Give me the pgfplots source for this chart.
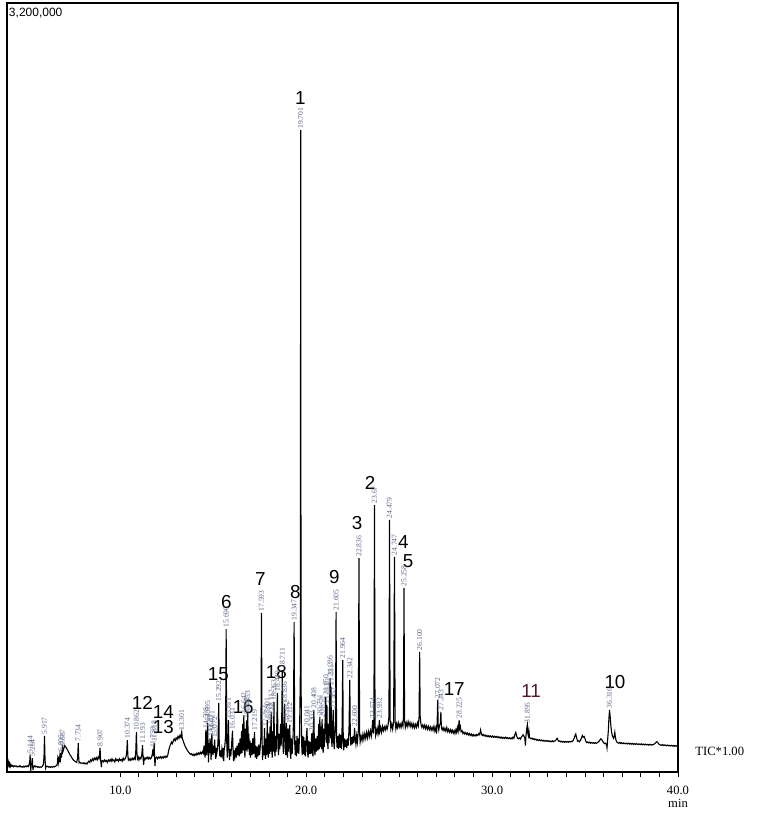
\documentclass[border=0pt]{standalone}
\usepackage{fontspec}
\setmainfont{Liberation Serif}
\newfontfamily\arialf{Liberation Sans}
\usepackage{pgfplots}
\pgfplotsset{compat=1.18}
\definecolor{labcol}{RGB}{95,105,140}
\definecolor{darkred}{RGB}{80,25,45}
\begin{document}
\begin{tikzpicture}
\path[use as bounding box] (-3.5pt,-26pt) rectangle (376.5pt,386pt);
\begin{axis}[
  at={(0,0)}, anchor=south west,
  scale only axis, width=335.5pt, height=384.5pt,
  xmin=3.9, xmax=40, ymin=0, ymax=3200,
  axis line style={line width=0.7pt},
  xtick={10,20,30,40}, xticklabels={10.0,20.0,30.0,40.0},
  minor x tick num=9,
  ytick=\empty,
  xtick pos=bottom, tick align=outside,
  major tick length=2.6pt, minor tick length=2.6pt,
  tick style={line width=0.5pt, black},
  xticklabel style={font=\fontsize{6.3}{7}\selectfont, yshift=-1pt},
  clip=false,
]
\addplot[black, line width=0.55pt] coordinates {
(3.90,24)(3.93,40)(3.96,30)(3.99,42)(4.02,26)(4.05,35)(4.08,22)(4.12,30)(4.16,24)(4.20,27)(4.25,22)(4.30,26)(4.35,23)(4.40,25)(4.45,21)(4.50,24)(4.55,22)(4.60,26)(4.65,21)(4.70,23)(4.75,20)(4.80,24)(4.85,21)(4.90,25)(4.95,22)(5.00,26)
(5.05,23)(5.10,35)(5.13,50)(5.144,72)(5.16,30)(5.18,5)(5.20,28)(5.23,35)(5.264,58)(5.28,25)(5.30,8)(5.32,24)(5.36,22)(5.40,26)(5.45,21)(5.50,23)(5.55,20)(5.60,22)(5.65,19)(5.70,21)(5.75,20)(5.80,24)(5.85,30)(5.89,60)(5.917,150)(5.94,70)(5.96,35)(5.98,18)(6.00,25)(6.05,22)(6.10,24)(6.15,20)(6.20,22)(6.25,19)(6.30,22)(6.35,20)(6.40,23)(6.45,21)(6.50,24)(6.55,26)
(6.60,30)(6.63,55)(6.66,38)(6.70,65)(6.72,40)(6.75,70)(6.78,55)(6.805,78)(6.83,60)(6.85,82)(6.887,100)(6.91,85)(6.95,95)(7.00,110)(7.05,105)(7.10,100)(7.15,92)(7.20,85)(7.25,78)(7.30,70)(7.35,65)(7.40,58)(7.45,52)(7.50,48)(7.55,45)(7.60,42)(7.65,40)(7.70,60)(7.734,120)(7.76,55)(7.78,38)(7.82,40)(7.88,36)(7.95,38)(8.00,35)(8.05,38)(8.10,34)(8.15,37)(8.20,33)(8.25,40)(8.30,45)(8.35,40)(8.40,50)(8.45,45)(8.50,55)(8.55,48)(8.60,58)(8.65,52)(8.70,60)(8.75,50)(8.80,62)(8.85,55)(8.88,75)(8.907,100)(8.93,60)(8.95,40)(8.98,20)(9.00,45)(9.05,48)(9.10,42)(9.15,50)(9.20,44)(9.25,48)(9.30,40)(9.35,50)(9.40,45)(9.45,52)(9.50,44)(9.55,55)(9.60,46)(9.65,50)(9.70,42)(9.75,55)(9.80,48)(9.85,52)(9.90,45)(9.95,55)(10.00,48)(10.05,52)(10.10,45)(10.15,58)(10.20,50)(10.25,55)(10.30,62)(10.34,80)(10.374,133)(10.40,70)(10.43,50)(10.47,55)(10.52,48)(10.57,56)(10.62,50)(10.67,58)(10.72,52)(10.77,60)(10.80,55)(10.83,90)(10.862,166)(10.89,80)(10.92,55)(10.96,62)(11.00,50)(11.05,60)(11.10,55)(11.15,70)(11.193,112)(11.22,60)(11.25,30)(11.28,58)(11.33,52)(11.38,60)(11.43,55)(11.48,62)(11.53,54)(11.58,60)(11.63,55)(11.68,62)(11.72,75)(11.753,95)(11.78,65)(11.818,120)(11.84,60)(11.86,25)(11.89,58)(11.95,62)(12.00,55)(12.05,62)(12.10,58)(12.15,64)(12.20,57)(12.25,63)(12.30,58)(12.35,65)(12.40,60)(12.45,66)(12.50,62)(12.55,70)
(12.60,90)(12.65,105)(12.70,115)(12.75,125)(12.80,118)(12.85,130)(12.90,138)(12.95,130)(13.00,142)(13.05,136)(13.10,148)(13.15,140)(13.20,152)(13.25,145)(13.301,166)(13.33,140)(13.37,132)(13.42,120)(13.47,110)(13.52,102)(13.57,95)(13.62,88)(13.67,82)(13.72,78)(13.77,74)(13.82,76)(13.87,70)(13.92,74)(13.97,68)(14.02,75)(14.07,70)(14.12,78)(14.17,72)(14.22,80)(14.27,74)(14.32,82)(14.37,76)(14.42,85)(14.46,78)(14.50,110)(14.53,80)(14.56,60)(14.598,175)(14.62,90)(14.64,70)(14.667,150)(14.695,204)(14.72,95)(14.74,40)(14.77,120)(14.80,80)(14.825,140)(14.86,85)(14.88,50)(14.921,160)(14.95,90)(14.98,70)(15.01,110)(15.04,80)(15.072,135)(15.10,85)(15.13,55)(15.16,100)(15.19,80)(15.22,95)(15.25,120)(15.292,287)
(15.32,110)(15.35,65)(15.38,90)(15.42,60)(15.46,95)(15.50,70)(15.54,100)(15.56,45)(15.58,88)(15.62,110)(15.66,150)(15.690,595)(15.72,130)(15.75,60)(15.78,120)(15.811,216)(15.84,100)(15.87,50)(15.90,95)(15.94,65)(15.98,110)(16.031,172)(16.06,95)(16.09,45)(16.12,90)(16.16,65)(16.20,100)(16.24,60)(16.28,110)(16.32,70)(16.36,120)(16.40,65)(16.44,140)(16.48,75)(16.52,170)(16.55,80)(16.58,200)(16.61,90)(16.642,238)(16.67,100)(16.70,60)(16.73,180)(16.76,90)(16.792,215)(16.82,85)(16.853,245)(16.88,95)(16.91,160)(16.94,70)(16.97,130)(17.00,60)(17.04,120)(17.08,70)(17.12,140)(17.16,75)(17.19,130)(17.219,166)(17.25,60)(17.29,110)(17.33,55)(17.37,105)(17.41,65)(17.45,115)(17.49,70)(17.53,110)(17.56,150)(17.593,662)(17.62,140)(17.65,50)(17.68,110)(17.72,70)(17.752,183)(17.78,80)(17.81,55)(17.84,140)(17.87,70)(17.901,216)(17.93,90)(17.96,60)(17.99,160)(18.02,75)(18.053,190)(18.08,85)(18.112,250)(18.14,95)(18.17,60)(18.20,170)(18.23,85)(18.263,291)(18.29,95)(18.32,65)(18.35,150)(18.38,85)(18.41,180)(18.449,329)(18.48,100)(18.51,70)(18.55,160)(18.58,95)(18.62,200)(18.65,110)(18.68,220)(18.711,424)(18.74,120)(18.77,75)(18.80,170)(18.836,283)(18.87,100)(18.90,70)(18.932,204)(18.96,90)(18.99,60)(19.02,180)(19.05,85)(19.08,150)(19.112,196)(19.14,80)(19.17,55)(19.20,140)(19.24,75)(19.28,130)(19.31,200)(19.347,624)(19.38,120)(19.41,70)(19.44,130)(19.47,65)(19.50,150)(19.53,80)(19.57,140)(19.60,75)(19.64,160)(19.68,400)(19.701,2671)(19.72,380)(19.75,120)(19.78,70)(19.81,150)(19.84,75)(19.87,145)(19.90,70)(19.93,130)(19.96,65)(20.00,140)(20.041,183)(20.07,80)(20.10,60)(20.13,130)(20.17,75)(20.21,125)(20.25,75)(20.28,140)(20.303,162)(20.33,80)(20.36,65)(20.38,180)(20.408,258)(20.44,95)(20.47,70)(20.51,140)(20.55,85)(20.59,150)(20.63,90)(20.67,200)(20.70,95)(20.731,229)(20.76,105)(20.79,190)(20.82,95)(20.852,220)(20.88,110)(20.91,80)(20.94,180)(20.97,105)(21.01,200)(21.050,312)(21.08,120)(21.112,279)(21.14,130)(21.17,95)(21.20,200)(21.23,120)(21.25,260)(21.286,391)(21.31,140)(21.331,354)(21.36,130)(21.39,105)(21.42,200)(21.452,258)(21.48,120)(21.51,95)(21.54,160)(21.57,200)(21.605,666)(21.63,140)(21.66,100)(21.70,150)(21.74,95)(21.78,160)(21.82,100)(21.86,155)(21.90,95)(21.93,200)(21.964,466)(21.99,130)(22.02,90)
(22.06,140)(22.10,105)(22.14,135)(22.18,100)(22.22,140)(22.26,110)(22.30,180)(22.342,383)(22.37,150)(22.40,110)(22.44,145)(22.48,115)(22.52,150)(22.56,120)(22.600,183)(22.63,140)(22.67,115)(22.71,150)(22.75,125)(22.80,170)(22.836,890)(22.87,160)(22.90,125)(22.95,150)(23.00,130)(23.05,158)(23.10,135)(23.15,160)(23.20,140)(23.25,165)(23.30,142)(23.35,168)(23.40,148)(23.45,172)(23.50,150)(23.54,180)(23.574,216)(23.61,160)(23.64,200)(23.671,1111)(23.70,200)(23.73,155)(23.77,175)(23.81,160)(23.85,182)(23.89,165)(23.932,216)(23.96,170)(24.00,185)(24.05,165)(24.10,190)(24.15,172)(24.20,188)(24.25,175)(24.30,192)(24.35,178)(24.40,195)(24.45,230)(24.479,1049)(24.51,220)(24.55,180)(24.60,200)(24.65,178)(24.70,210)(24.747,895)(24.78,210)(24.82,180)(24.86,200)(24.90,185)(24.95,205)(25.00,186)(25.05,200)(25.10,185)(25.15,204)(25.20,190)(25.23,230)(25.258,766)(25.29,215)(25.33,186)(25.38,205)(25.43,190)(25.48,210)(25.53,192)(25.58,206)(25.63,188)(25.68,202)(25.73,185)(25.78,200)(25.83,184)(25.88,198)(25.93,186)(25.98,205)(26.03,192)(26.07,230)(26.100,500)(26.13,230)(26.17,200)(26.22,186)(26.27,196)(26.32,183)(26.37,195)(26.42,180)(26.47,192)(26.52,178)(26.57,190)(26.62,176)(26.67,188)(26.72,174)(26.77,186)(26.82,173)(26.87,190)(26.92,170)(26.97,185)(27.01,160)(27.04,200)(27.072,300)(27.10,190)(27.13,175)(27.17,195)(27.21,200)(27.243,250)(27.27,185)(27.31,175)(27.36,185)(27.41,172)(27.46,182)(27.51,170)(27.56,185)(27.61,168)(27.66,178)(27.71,166)(27.76,176)(27.81,164)(27.86,174)(27.91,162)(27.96,172)(28.00,160)(28.05,176)(28.09,165)(28.13,185)(28.17,170)(28.20,195)(28.225,216)(28.25,180)(28.29,190)(28.33,168)(28.38,172)(28.43,160)(28.48,166)(28.53,158)(28.58,164)(28.63,156)(28.68,162)(28.73,154)(28.78,160)(28.83,152)(28.88,158)(28.93,150)(28.98,156)(29.03,150)(29.08,155)(29.13,150)(29.18,156)(29.23,152)(29.28,160)(29.33,155)(29.38,175)(29.42,160)(29.47,152)(29.52,156)(29.57,150)(29.62,154)(29.67,148)(29.72,152)(29.77,147)(29.82,151)(29.87,146)(29.92,150)(29.97,145)(30.02,150)(30.07,145)(30.12,149)(30.17,144)(30.22,148)(30.27,143)(30.32,147)(30.37,142)(30.42,146)(30.47,141)(30.52,145)(30.57,140)(30.62,144)(30.67,140)(30.72,145)(30.77,140)(30.82,143)(30.87,139)(30.92,142)(30.97,138)(31.02,142)(31.07,138)(31.12,145)(31.17,140)(31.22,155)(31.27,165)(31.32,150)(31.37,140)(31.42,138)(31.47,142)(31.52,137)(31.57,145)(31.62,150)(31.67,155)(31.72,148)(31.76,140)(31.79,110)(31.82,150)(31.86,180)(31.895,196)(31.92,160)(31.95,150)(31.98,170)(32.01,145)(32.05,140)(32.10,138)(32.15,141)(32.20,136)(32.25,139)(32.30,134)(32.35,137)(32.40,132)(32.45,135)(32.50,131)(32.55,134)(32.60,130)(32.65,133)(32.70,129)(32.75,132)(32.80,128)(32.85,131)(32.90,128)(32.95,131)(33.00,127)(33.05,130)(33.10,126)(33.15,129)(33.20,126)(33.25,130)(33.30,126)(33.35,129)(33.40,130)(33.45,135)(33.50,140)(33.55,132)(33.60,127)(33.65,129)(33.70,125)(33.75,128)(33.80,124)(33.85,127)(33.90,124)(33.95,127)(34.00,124)(34.05,127)(34.10,124)(34.15,127)(34.20,125)(34.25,128)(34.30,126)(34.35,130)(34.40,138)(34.45,150)(34.50,158)(34.55,140)(34.60,128)(34.65,130)(34.70,126)(34.75,132)(34.80,140)(34.85,152)(34.90,145)(34.95,148)(35.00,138)(35.05,126)(35.10,122)(35.15,125)(35.20,121)(35.25,124)(35.30,120)(35.35,123)(35.40,120)(35.45,122)(35.50,119)(35.55,122)(35.60,119)(35.65,122)(35.70,124)(35.75,128)(35.80,133)(35.85,138)(35.90,134)(35.95,128)(36.00,122)(36.05,118)(36.10,120)(36.15,115)(36.18,100)(36.21,130)(36.25,170)(36.28,220)(36.316,258)(36.35,230)(36.39,190)(36.43,165)(36.47,150)(36.50,145)(36.53,140)(36.57,150)(36.60,165)(36.63,145)(36.67,130)(36.71,125)(36.75,122)(36.80,120)(36.85,123)(36.90,119)(36.95,122)(37.00,118)(37.05,121)(37.10,118)(37.15,120)(37.20,117)(37.25,120)(37.30,117)(37.35,120)(37.40,116)(37.45,119)(37.50,116)(37.55,119)(37.60,115)(37.65,118)(37.70,115)(37.75,118)(37.80,115)(37.85,117)(37.90,114)(37.95,117)(38.00,114)(38.05,117)(38.10,113)(38.15,116)(38.20,113)(38.25,116)(38.30,113)(38.35,115)(38.40,112)(38.45,115)(38.50,112)(38.55,115)(38.60,112)(38.65,114)(38.70,115)(38.75,118)(38.80,122)(38.85,126)(38.90,124)(38.95,118)(39.00,114)(39.05,113)(39.10,111)(39.15,114)(39.20,110)(39.25,113)(39.30,110)(39.35,112)(39.40,109)(39.45,112)(39.50,109)(39.55,111)(39.60,108)(39.65,111)(39.70,108)(39.75,110)(39.80,107)(39.85,110)(39.90,107)(39.95,109)(40.00,107)
};
% retention time labels
\addplot[only marks, mark=*, mark size=0pt, mark options={draw=none,fill=none},
  point meta=explicit symbolic,
  nodes near coords={\pgfplotspointmeta},
  every node near coord/.append style={rotate=90, anchor=west, inner sep=0.6pt,
     font=\fontsize{3.8}{4.5}\selectfont, text=labcol}]
coordinates {
(5.144,72)[5.144] (5.264,58)[5.264] (5.917,150)[5.917] (6.805,78)[6.805] (6.887,100)[6.887]
(7.734,120)[7.734] (8.907,100)[8.907] (10.374,133)[10.374] (10.862,166)[10.862] (11.193,112)[11.193]
(11.753,95)[11.753] (11.818,120)[11.818] (13.301,166)[13.301] (14.598,175)[14.598] (14.695,204)[14.695]
(14.825,140)[14.825] (14.921,160)[14.921] (15.072,135)[15.072] (15.292,287)[15.292] (15.690,595)[15.690]
(15.811,216)[15.811] (16.031,172)[16.031] (16.642,238)[16.642] (16.792,215)[16.792] (16.853,245)[16.853]
(17.219,166)[17.219] (17.593,662)[17.593] (17.752,183)[17.752] (17.901,216)[17.901] (18.053,190)[18.053]
(18.112,250)[18.112] (18.263,291)[18.263] (18.449,329)[18.449] (18.711,424)[18.711] (18.836,283)[18.836]
(18.932,204)[18.932] (19.112,196)[19.112] (19.347,624)[19.347] (19.701,2671)[19.701] (20.041,183)[20.041]
(20.303,162)[20.303] (20.408,258)[20.408] (20.731,229)[20.731] (20.852,220)[20.852] (21.050,312)[21.050]
(21.112,279)[21.112] (21.286,391)[21.286] (21.331,354)[21.331] (21.452,258)[21.452] (21.605,666)[21.605]
(21.964,466)[21.964] (22.342,383)[22.342] (22.600,183)[22.600] (22.836,890)[22.836] (23.574,216)[23.574]
(23.671,1111)[23.67] (23.932,216)[23.932] (24.479,1049)[24.479] (24.747,895)[24.747] (25.258,766)[25.258]
(26.100,500)[26.100] (27.072,300)[27.072] (27.243,250)[27.243] (28.225,216)[28.225] (31.895,196)[31.895]
(36.316,258)[36.316]
};
% peak numbers
\begin{scope}[font=\arialf\fontsize{9.4}{10}\selectfont]
\node at (axis cs:19.68,2805) {1};
\node at (axis cs:23.44,1203) {2};
\node at (axis cs:22.74,1036) {3};
\node at (axis cs:25.22,957) {4};
\node at (axis cs:25.48,878) {5};
\node at (axis cs:15.70,707) {6};
\node at (axis cs:17.53,803) {7};
\node at (axis cs:19.41,749) {8};
\node at (axis cs:21.51,811) {9};
\node at (axis cs:36.61,374) {10};
\node[text=darkred] at (axis cs:32.10,337) {11};
\node at (axis cs:11.18,287) {12};
\node at (axis cs:12.31,187) {13};
\node at (axis cs:12.31,250) {14};
\node at (axis cs:15.27,408) {15};
\node at (axis cs:16.61,270) {16};
\node at (axis cs:27.96,345) {17};
\node at (axis cs:18.39,416) {18};
\end{scope}
\node[anchor=north west, inner sep=0pt, font=\arialf\fontsize{6}{7}\selectfont]
  at ([xshift=0.8pt,yshift=-2.5pt]rel axis cs:0,1) {3,200,000};
\node[anchor=west, inner sep=0pt, font=\fontsize{6.3}{7}\selectfont]
  at ([xshift=8.5pt,yshift=10.5pt]rel axis cs:1,0) {TIC*1.00};
\node[anchor=center, inner sep=0pt, font=\fontsize{6.3}{7}\selectfont]
  at ([yshift=-15.5pt]rel axis cs:1,0) {min};
\end{axis}
\end{tikzpicture}
\end{document}
